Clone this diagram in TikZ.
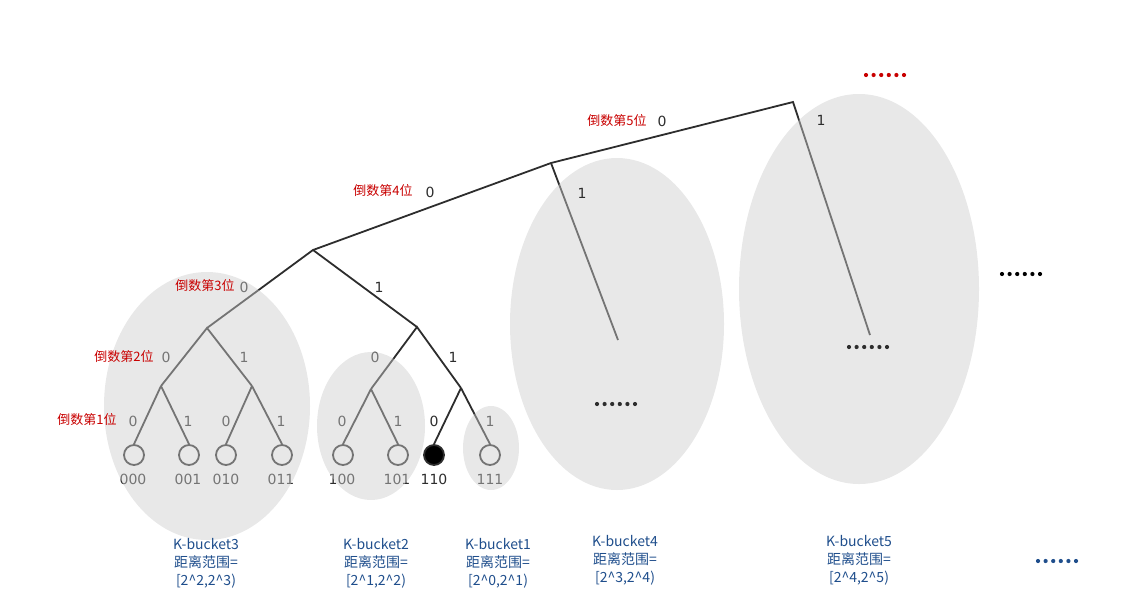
\documentclass[tikz,border=0pt]{standalone}
\usepackage{fontspec}
\setmainfont{DejaVu Sans}
\newfontfamily\cjk{Noto Sans CJK SC}
\definecolor{lineC}{RGB}{45,45,45}
\definecolor{redC}{RGB}{200,0,0}
\definecolor{blueC}{RGB}{31,78,140}
\definecolor{ellC}{RGB}{204,204,204}
\tikzset{
  edge/.style={draw=lineC, line width=1.8pt},
  leaf/.style={circle, draw=lineC, line width=1.8pt, fill=white, minimum size=20pt, inner sep=0pt},
  leafon/.style={leaf, fill=black},
  bit/.style={text=lineC, font=\fontsize{14}{16}\selectfont, inner sep=0pt},
  lvl/.style={text=redC, font=\cjk\fontsize{13}{14}\selectfont, inner sep=0pt},
  bucketlbl/.style={text=blueC, font=\cjk\fontsize{14}{18}\selectfont, align=center, inner sep=0pt},
  bucketell/.style={fill=ellC, fill opacity=0.45, draw=none},
}
\newcommand{\dotrow}[3]{\foreach \k in {0,...,5} {\fill[#3] ({#1+(\k-2.5)*7.6},#2) circle (2.1);}}
\begin{document}
\begin{tikzpicture}[x=1pt,y=-1pt]
\useasboundingbox (0,0) rectangle (1142,614);
% junctions
\coordinate (r5) at (793,102);
\coordinate (r4) at (551,163);
\coordinate (r3) at (313,250);
\coordinate (a0) at (207,328);
\coordinate (a1) at (417,327);
\coordinate (b00) at (161,386);
\coordinate (b01) at (252,386);
\coordinate (b10) at (371,389);
\coordinate (b11) at (461,388);
\coordinate (e5) at (870,335);
\coordinate (e4) at (618,340);
% edges
\draw[edge] (r3) -- (r4) -- (r5) -- (e5);
\draw[edge] (r4) -- (e4);
\draw[edge] (a0) -- (r3) -- (a1);
\draw[edge] (b00) -- (a0) -- (b01);
\draw[edge] (b10) -- (a1) -- (b11);
% leaves
\node[leaf] (l000) at (134,455) {};
\node[leaf] (l001) at (189,455) {};
\node[leaf] (l010) at (226,455) {};
\node[leaf] (l011) at (282,455) {};
\node[leaf] (l100) at (343,455) {};
\node[leaf] (l101) at (398,455) {};
\node[leafon] (l110) at (434,455) {};
\node[leaf] (l111) at (490,455) {};
\draw[edge] (b00) -- (l000.north); \draw[edge] (b00) -- (l001.north);
\draw[edge] (b01) -- (l010.north); \draw[edge] (b01) -- (l011.north);
\draw[edge] (b10) -- (l100.north); \draw[edge] (b10) -- (l101.north);
\draw[edge] (b11) -- (l110.north); \draw[edge] (b11) -- (l111.north);
% leaf ids
\foreach \n/\x in {000/133,001/188,010/226,011/281,100/342,101/397,110/434,111/490}
  \node[bit] (t\n) at (\x,479) {\n};
% bit labels
\node[bit] (c5) at (662,121) {0};
\node[bit] (c4) at (430,192) {0};
\node[bit] (c3a) at (244,287) {0};
\node[bit] (c3b) at (379,287) {1};
\node[bit] (c2a) at (166,357) {0};
\node[bit] (c2b) at (244,357) {1};
\node[bit] (c2c) at (375,357) {0};
\node[bit] (c2d) at (453,357) {1};
\node[bit] (c1a) at (133,421) {0};
\node[bit] (c1b) at (188,421) {1};
\node[bit] (c1c) at (226,421) {0};
\node[bit] (c1d) at (281,421) {1};
\node[bit] (c1e) at (342,421) {0};
\node[bit] (c1f) at (398,421) {1};
\node[bit] (c1g) at (434,421) {0};
\node[bit] (c1h) at (490,421) {1};
% ellipses (semi-transparent overlay)
\fill[bucketell] (207,406) ellipse [x radius=103, y radius=134];
\fill[bucketell] (371,426) ellipse [x radius=54, y radius=74];
\fill[bucketell] (491,448) ellipse [x radius=28, y radius=42];
\fill[bucketell] (617,324) ellipse [x radius=107, y radius=166];
\fill[bucketell] (859,289) ellipse [x radius=120, y radius=195];
% labels on top
\node[bit] (c4b) at (582,193) {1};
\node[bit] (c5b) at (821,120) {1};
\node[lvl] (v5) at (617,121) {倒数第5位};
\node[lvl] (v4) at (383,191) {倒数第4位};
\node[lvl] (v3) at (205,286) {倒数第3位};
\node[lvl] (v2) at (124,357) {倒数第2位};
\node[lvl] (v1) at (87,420) {倒数第1位};
% dots
\dotrow{885}{75}{redC}
\dotrow{868}{347}{lineC}
\dotrow{616}{404}{lineC}
\dotrow{1021}{274}{black}
\dotrow{1057}{561}{blueC}
% bucket labels
\node[bucketlbl, anchor=north] (k3) at (206,538) {K-bucket3\\距离范围=\\{[}2\^{}2,2\^{}3)};
\node[bucketlbl, anchor=north] (k2) at (376,538) {K-bucket2\\距离范围=\\{[}2\^{}1,2\^{}2)};
\node[bucketlbl, anchor=north] (k1) at (498,538) {K-bucket1\\距离范围=\\{[}2\^{}0,2\^{}1)};
\node[bucketlbl, anchor=north] (k4) at (625,535) {K-bucket4\\距离范围=\\{[}2\^{}3,2\^{}4)};
\node[bucketlbl, anchor=north] (k5) at (859,535) {K-bucket5\\距离范围=\\{[}2\^{}4,2\^{}5)};
\end{tikzpicture}
\end{document}
